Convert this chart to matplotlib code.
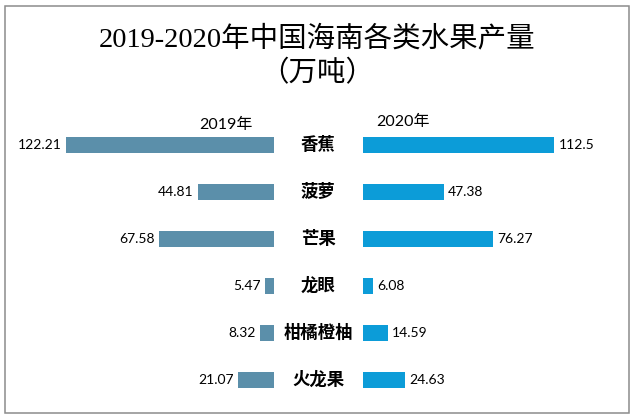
import matplotlib
matplotlib.use("Agg")
import matplotlib.pyplot as plt
from matplotlib.patches import Rectangle

fruits = ["香蕉", "菠萝", "芒果", "龙眼", "柑橘橙柚", "火龙果"]
vals_2019 = [122.21, 44.81, 67.58, 5.47, 8.32, 21.07]
vals_2020 = [112.5, 47.38, 76.27, 6.08, 14.59, 24.63]
labels_2019 = ["122.21", "44.81", "67.58", "5.47", "8.32", "21.07"]
labels_2020 = ["112.5", "47.38", "76.27", "6.08", "14.59", "24.63"]

C2019 = "#5b8faa"
C2020 = "#0c9cd8"
CJK = ["Noto Sans CJK SC", "DejaVu Sans"]
NUM = ["Lato", "Noto Sans CJK SC"]

W, H = 640, 419
PX = 1.70          # pixels per unit (万吨)
CX = 318           # centre line, px
GAP = 26           # half gap between the two sides, units
ROW0, ROWH = 145, 47

fig = plt.figure(figsize=(W / 100, H / 100), dpi=100)
ax = fig.add_axes([0, 0, 1, 1])
ax.set_xlim(-CX / PX, (W - CX) / PX)
ax.set_ylim((H - ROW0) / ROWH, -ROW0 / ROWH)
ax.axis("off")

ys = list(range(len(fruits)))
ax.barh(ys, vals_2019, left=[-GAP - v for v in vals_2019], height=0.33, color=C2019)
ax.barh(ys, vals_2020, left=GAP + 0.5, height=0.33, color=C2020)

for y, name, v1, v2, l1, l2 in zip(ys, fruits, vals_2019, vals_2020, labels_2019, labels_2020):
    ax.text(0, y, name, ha="center", va="center", fontsize=12.5, fontweight="bold",
            family=CJK, color="black")
    ax.annotate(l1, (-GAP - v1, y), xytext=(-3, 0), textcoords="offset points",
                ha="right", va="center", fontsize=10, family=NUM)
    ax.annotate(l2, (GAP + 0.5 + v2, y), xytext=(3, 0), textcoords="offset points",
                ha="left", va="center", fontsize=10, family=NUM)

ax.text(-(CX - 226) / PX, -0.43, "2019年", ha="center", va="center",
        fontsize=11.5, family=NUM)
ax.text((403 - CX) / PX, -0.5, "2020年", ha="center", va="center",
        fontsize=11.5, family=NUM)

fig.text(0.496, 1 - 39 / H, "2019-2020年中国海南各类水果产量", ha="center", va="center",
         fontsize=20.5, family=["Liberation Serif", "Noto Sans CJK SC"])
fig.text(0.496, 1 - 74 / H, "（万吨）", ha="center", va="center",
         fontsize=20.5, family=["Liberation Serif", "Noto Sans CJK SC"])

fig.patches.append(Rectangle((5 / W, 1 - 413 / H), 624 / W, 407 / H, fill=False,
                             edgecolor="#8c8c8c", linewidth=1.1,
                             transform=fig.transFigure))

fig.savefig("out.png", dpi=100, facecolor="white")
